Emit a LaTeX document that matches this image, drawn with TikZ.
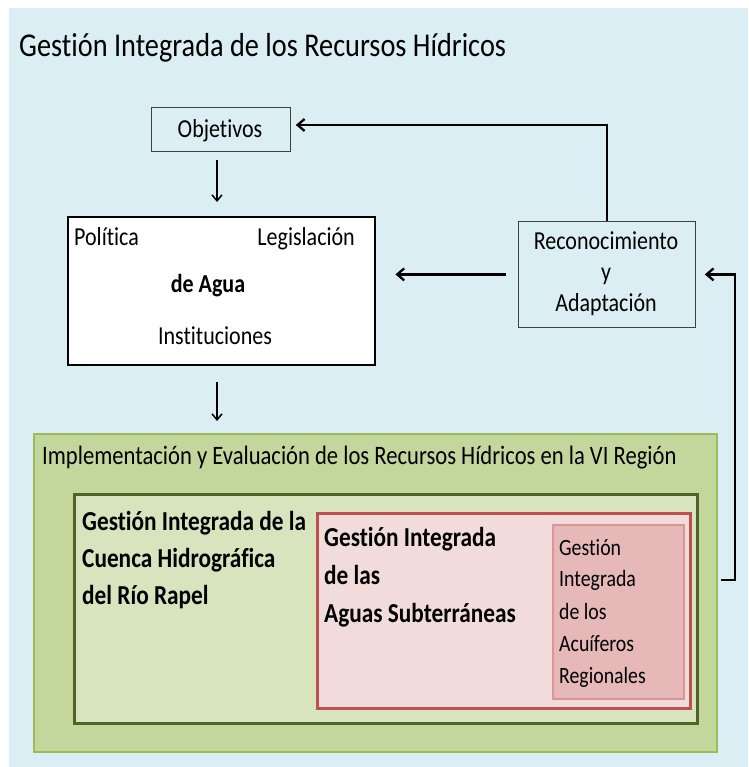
\documentclass[tikz,border=0pt]{standalone}
\usepackage{fontspec}
\setmainfont[FakeStretch=0.85, Ligatures=NoCommon]{Carlito}
\usetikzlibrary{arrows.meta}
\definecolor{bgblue}{HTML}{DBEEF3}
\definecolor{gfill}{HTML}{C3D69B}
\definecolor{gline}{HTML}{9BBB59}
\definecolor{ifill}{HTML}{D7E4BD}
\definecolor{iline}{HTML}{4F6228}
\definecolor{rfill}{HTML}{F2DCDB}
\definecolor{rline}{HTML}{C0504D}
\definecolor{pfill}{HTML}{E6B9B8}
\definecolor{pline}{HTML}{D99694}
\tikzset{
  box/.style={draw, rectangle, inner sep=0pt, anchor=north west},
  thinbox/.style={box, draw=black!75, line width=0.8pt, fill=bgblue},
  txt/.style={inner sep=0pt, anchor=base west, text=black},
  ctxt/.style={inner sep=0pt, anchor=base, text=black},
  sm/.style={font=\fontsize{25.9}{30}\selectfont},
  bf/.style={font=\fontsize{27.4}{32}\selectfont\bfseries},
  pk/.style={font=\fontsize{23.3}{28}\selectfont},
  bigarrow/.style={draw=black, line width=2.8pt, -{Straight Barb[length=7pt,width=12pt,line width=2.3pt]}},
  smallarrow/.style={draw=black, line width=1.7pt, -{Straight Barb[length=6pt,width=10pt,line width=1.5pt]}}
}
\begin{document}
\begin{tikzpicture}[x=1pt,y=-1pt]
\useasboundingbox (0,0) rectangle (748,767);
\fill[bgblue] (9,8) rectangle (748,767);
% title
\node[txt, font=\fontsize{33.3}{38}\selectfont] (title) at (19,57) {Gestión Integrada de los Recursos Hídricos};
% Objetivos
\node[thinbox, minimum width=139pt, minimum height=44pt] (obj) at (151,107) {};
\node[ctxt, sm] (objt) at (220,138) {Objetivos};
% Policy box
\node[box, draw=black, line width=2.4pt, fill=white, minimum width=307pt, minimum height=148pt] (pol) at (67,216) {};
\node[txt, sm] (polt) at (74,245) {Política};
\node[txt, sm, anchor=base east] (legt) at (355,245) {Legislación};
\node[ctxt, font=\fontsize{25.9}{30}\selectfont\bfseries] (agua) at (208,292) {de Agua};
\node[ctxt, sm] (inst) at (215,344) {Instituciones};
% Reconocimiento
\node[thinbox, minimum width=177pt, minimum height=106pt] (rec) at (518,221) {};
\node[ctxt, sm] (rect1) at (606,249) {Reconocimiento};
\node[ctxt, sm] (rect2) at (606,280) {y};
\node[ctxt, sm] (rect3) at (606,311) {Adaptación};
% green outer
\node[box, draw=gline, line width=2pt, fill=gfill, minimum width=683pt, minimum height=318pt] (green) at (33,433) {};
\node[txt, font=\fontsize{26.6}{30}\selectfont] (impt) at (42,464) {Implementación y Evaluación de los Recursos Hídricos en la VI Región};
% inner green
\node[box, draw=iline, line width=3pt, fill=ifill, minimum width=623pt, minimum height=229pt] (inner) at (73,493) {};
\node[txt, bf] (c1) at (82,530) {Gestión Integrada de la};
\node[txt, bf] (c2) at (82,567) {Cuenca Hidrográfica};
\node[txt, bf] (c3) at (82,604) {del Río Rapel};
% red box
\node[box, draw=rline, line width=2.5pt, fill=rfill, minimum width=373pt, minimum height=195pt] (red) at (316,512) {};
\node[txt, bf] (a1) at (324,546) {Gestión Integrada};
\node[txt, bf] (a2) at (324,584) {de las};
\node[txt, bf] (a3) at (324,622) {Aguas Subterráneas};
% pink box
\node[box, draw=pline, line width=2pt, fill=pfill, minimum width=131pt, minimum height=174pt] (pink) at (552,524) {};
\node[txt, pk] (p1) at (559,555) {Gestión};
\node[txt, pk] (p2) at (559,586) {Integrada};
\node[txt, pk] (p3) at (559,619) {de los};
\node[txt, pk] (p4) at (559,651) {Acuíferos};
\node[txt, pk] (p5) at (559,683) {Regionales};
% arrows
\draw[smallarrow, shorten <=8pt, shorten >=14pt] (obj.south -| 217,0) -- (pol.north -| 217,0);
\draw[smallarrow, shorten <=16pt, shorten >=12pt] (pol.south -| 217,0) -- (green.north -| 217,0);
\draw[bigarrow, shorten <=12pt, shorten >=19pt] (rec.west) -- (rec.west -| pol.east);
\coordinate (ctop) at (607,125);
\draw[bigarrow, shorten >=5pt] (rec.north -| ctop) -- (ctop) -- (ctop -| obj.east);
\coordinate (cr) at (735,580);
\draw[bigarrow, shorten >=9pt] ([xshift=3pt]green.east |- cr) -- (cr) |- (rec.east);
\end{tikzpicture}
\end{document}
